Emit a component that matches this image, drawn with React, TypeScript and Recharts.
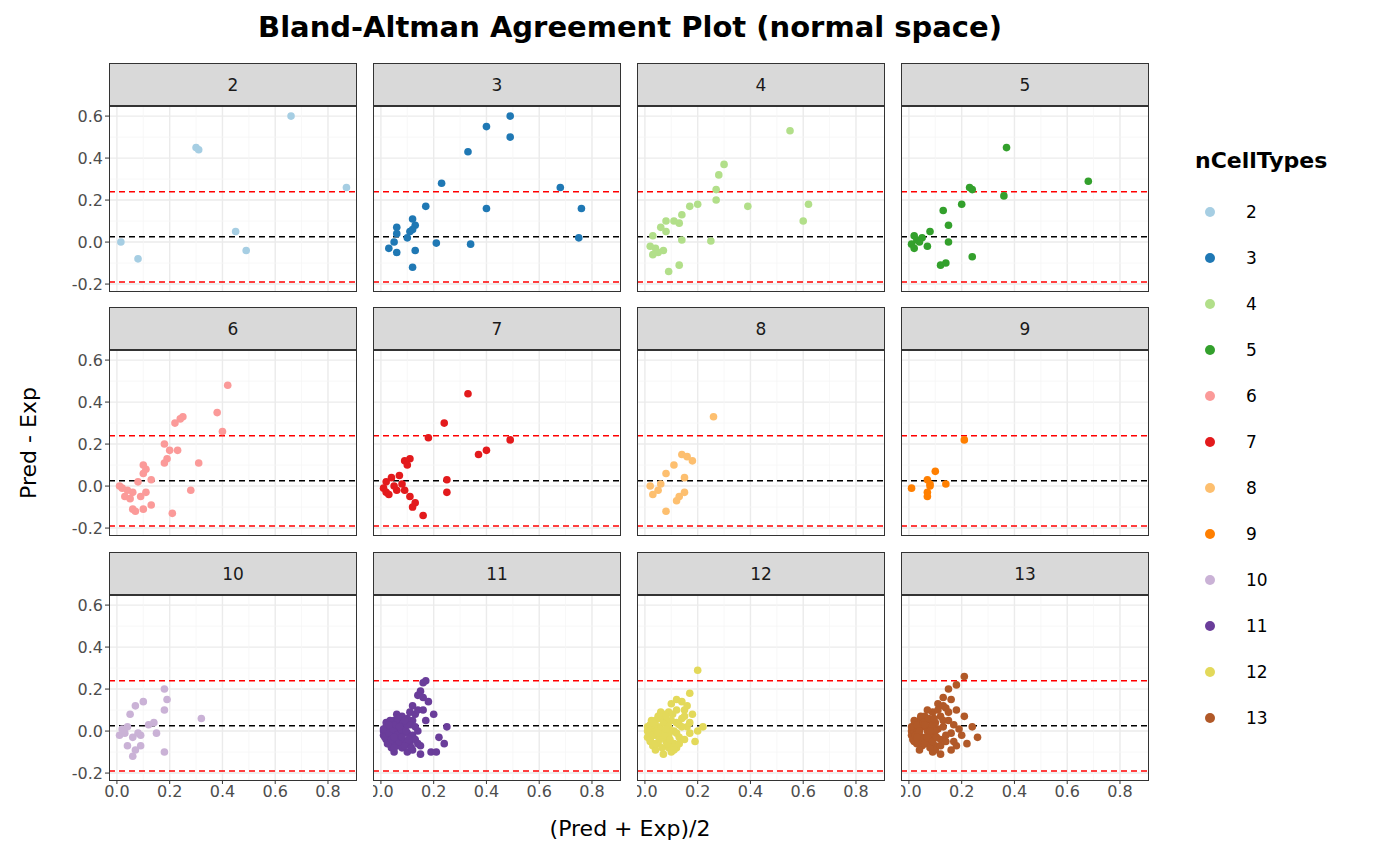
import { ScatterChart, Scatter, XAxis, YAxis, CartesianGrid, ReferenceLine } from "recharts"

const groups = ["2", "3", "4", "5", "6", "7", "8", "9", "10", "11", "12", "13"]
const colors = ["#A6CEE3", "#1F78B4", "#B2DF8A", "#33A02C", "#FB9A99", "#E31A1C", "#FDBF6F", "#FF7F00", "#CAB2D6", "#6A3D9A", "#E3D95A", "#B15928"]

const xTicks = [0, 0.2, 0.4, 0.6, 0.8]
const yTicks = [-0.2, 0, 0.2, 0.4, 0.6]
const xMinor = [0.1, 0.3, 0.5, 0.7]
const yMinor = [-0.1, 0.1, 0.3, 0.5]
const meanDiff = 0.025
const upperLoA = 0.24
const lowerLoA = -0.19

const p2 = [[0.015, 0], [0.08, -0.08], [0.3, 0.45], [0.31, 0.44], [0.66, 0.6], [0.87, 0.26], [0.45, 0.05], [0.49, -0.04]]
const p3 = [[0.49, 0.6], [0.4, 0.55], [0.49, 0.5], [0.33, 0.43], [0.23, 0.28], [0.68, 0.26], [0.17, 0.17], [0.4, 0.16], [0.76, 0.16], [0.12, 0.11], [0.13, 0.08], [0.12, 0.06], [0.06, 0.07], [0.06, 0.04], [0.11, 0.05], [0.05, 0.0], [0.03, -0.03], [0.06, -0.05], [0.13, -0.04], [0.21, -0.005], [0.34, -0.01], [0.12, -0.12], [0.75, 0.02], [0.1, 0.02]]
const p4 = [[0.55, 0.53], [0.3, 0.37], [0.28, 0.32], [0.27, 0.25], [0.27, 0.2], [0.17, 0.17], [0.2, 0.18], [0.39, 0.17], [0.62, 0.18], [0.6, 0.1], [0.14, 0.13], [0.11, 0.1], [0.08, 0.1], [0.13, 0.09], [0.06, 0.07], [0.08, 0.05], [0.03, 0.03], [0.14, 0.01], [0.25, 0.005], [0.02, -0.02], [0.04, -0.03], [0.03, -0.06], [0.07, -0.04], [0.13, -0.11], [0.09, -0.14], [0.05, -0.05]]
const p5 = [[0.37, 0.45], [0.68, 0.29], [0.23, 0.26], [0.24, 0.25], [0.36, 0.22], [0.2, 0.18], [0.13, 0.15], [0.15, 0.08], [0.08, 0.05], [0.02, 0.03], [0.05, 0.02], [0.03, 0.01], [0.01, -0.01], [0.02, -0.03], [0.07, -0.02], [0.15, 0], [0.12, -0.11], [0.14, -0.1], [0.24, -0.07], [0.04, 0.0]]
const p6 = [[0.42, 0.48], [0.38, 0.35], [0.25, 0.33], [0.24, 0.32], [0.22, 0.3], [0.4, 0.26], [0.18, 0.2], [0.2, 0.17], [0.23, 0.17], [0.19, 0.13], [0.18, 0.11], [0.31, 0.11], [0.1, 0.1], [0.11, 0.08], [0.1, 0.06], [0.13, 0.03], [0.08, 0.02], [0.02, -0.01], [0.04, -0.02], [0.06, -0.03], [0.03, -0.05], [0.05, -0.06], [0.11, -0.03], [0.09, -0.05], [0.28, -0.02], [0.13, -0.09], [0.1, -0.11], [0.06, -0.11], [0.07, -0.12], [0.21, -0.13], [0.01, 0.0]]
const p7 = [[0.33, 0.44], [0.4, 0.17], [0.37, 0.15], [0.49, 0.22], [0.24, 0.3], [0.18, 0.23], [0.11, 0.13], [0.09, 0.12], [0.1, 0.1], [0.07, 0.05], [0.04, 0.04], [0.02, 0.02], [0.01, -0.01], [0.02, -0.03], [0.03, -0.04], [0.06, -0.02], [0.09, -0.02], [0.11, -0.05], [0.13, -0.08], [0.12, -0.1], [0.16, -0.14], [0.25, 0.03], [0.25, -0.03], [0.05, 0.0], [0.08, 0.01]]
const p8 = [[0.26, 0.33], [0.14, 0.15], [0.16, 0.14], [0.18, 0.12], [0.11, 0.1], [0.08, 0.06], [0.15, 0.04], [0.02, 0.0], [0.05, -0.02], [0.03, -0.04], [0.13, -0.05], [0.15, -0.03], [0.12, -0.07], [0.08, -0.12], [0.06, 0.01]]
const p9 = [[0.21, 0.22], [0.1, 0.07], [0.07, 0.03], [0.08, 0.01], [0.01, -0.01], [0.07, -0.03], [0.07, -0.05], [0.14, 0.01], [0.08, 0.0]]
const p10 = [[0.18, 0.2], [0.19, 0.15], [0.1, 0.14], [0.07, 0.12], [0.18, 0.1], [0.05, 0.08], [0.12, 0.03], [0.14, 0.04], [0.04, 0.02], [0.02, 0.01], [0.01, -0.02], [0.03, -0.01], [0.06, -0.03], [0.09, -0.02], [0.15, -0.01], [0.04, -0.07], [0.09, -0.07], [0.07, -0.09], [0.06, -0.12], [0.18, -0.1], [0.32, 0.06], [0.08, -0.01]]
const p11 = [[0.17, 0.24], [0.16, 0.23], [0.15, 0.19], [0.14, 0.17], [0.16, 0.16], [0.18, 0.14], [0.12, 0.12], [0.16, 0.1], [0.2, 0.08], [0.12, 0.05], [0.25, 0.02], [0.22, -0.03], [0.24, -0.06], [0.19, -0.1], [0.21, -0.1], [0.15, -0.11], [0.1, -0.1], [0.05, -0.1], [0.01, 0.0], [0.01, -0.02], [0.02, 0.02], [0.02, -0.04], [0.03, 0.01], [0.03, -0.06], [0.04, 0.03], [0.04, -0.02], [0.05, 0.05], [0.05, -0.05], [0.06, 0.0], [0.06, -0.07], [0.07, 0.04], [0.07, -0.03], [0.08, 0.07], [0.08, -0.08], [0.09, 0.02], [0.09, -0.05], [0.1, 0.06], [0.1, -0.01], [0.11, 0.03], [0.11, -0.06], [0.12, -0.02], [0.13, 0.08], [0.13, -0.04], [0.14, 0.0], [0.15, -0.07], [0.04, -0.08], [0.06, 0.08], [0.02, -0.01], [0.08, 0.0], [0.12, -0.09],
  [0.01, 0.01], [0.015, -0.03], [0.02, 0.04], [0.025, -0.06], [0.03, -0.01], [0.035, 0.05], [0.04, -0.04], [0.045, 0.01], [0.05, -0.08], [0.055, 0.03], [0.06, -0.02], [0.065, 0.06], [0.07, -0.05], [0.075, 0.01], [0.08, -0.03], [0.085, 0.04], [0.09, -0.07], [0.095, 0.0], [0.1, 0.03], [0.105, -0.04], [0.11, 0.09], [0.115, -0.08], [0.13, 0.02], [0.14, -0.06], [0.14, 0.1], [0.17, 0.05], [0.03, 0.03], [0.07, 0.02], [0.05, -0.03], [0.09, 0.05]]
const p12 = [[0.2, 0.29], [0.17, 0.18], [0.14, 0.14], [0.12, 0.15], [0.1, 0.13], [0.15, 0.1], [0.18, 0.08], [0.07, 0.08], [0.22, 0.02], [0.2, 0.0], [0.17, -0.01], [0.19, -0.05], [0.12, -0.08], [0.1, -0.1], [0.07, -0.11], [0.01, 0.0], [0.01, -0.03], [0.02, 0.03], [0.02, -0.05], [0.03, 0.01], [0.03, -0.07], [0.04, 0.05], [0.04, -0.02], [0.05, 0.02], [0.05, -0.06], [0.06, 0.06], [0.06, -0.03], [0.07, 0.0], [0.08, 0.04], [0.08, -0.05], [0.09, 0.09], [0.09, -0.02], [0.1, 0.05], [0.11, 0.0], [0.11, -0.06], [0.12, 0.1], [0.13, 0.03], [0.13, -0.03], [0.14, 0.06], [0.15, -0.04], [0.16, 0.02], [0.04, -0.09], [0.06, 0.09], [0.02, 0.0], [0.09, -0.08], [0.16, 0.12],
  [0.01, 0.02], [0.015, -0.01], [0.02, -0.04], [0.025, 0.05], [0.03, -0.02], [0.035, 0.03], [0.04, -0.06], [0.045, 0.0], [0.05, 0.07], [0.055, -0.04], [0.06, 0.01], [0.065, -0.08], [0.07, 0.04], [0.075, -0.02], [0.08, 0.07], [0.085, -0.06], [0.09, 0.02], [0.095, -0.04], [0.1, 0.0], [0.105, 0.08], [0.11, -0.09], [0.12, 0.04], [0.13, -0.06], [0.14, 0.02], [0.15, 0.07], [0.17, 0.04], [0.05, -0.01], [0.03, 0.04], [0.08, 0.01], [0.12, -0.01]]
const p13 = [[0.21, 0.26], [0.18, 0.22], [0.15, 0.2], [0.13, 0.16], [0.16, 0.15], [0.11, 0.13], [0.14, 0.11], [0.18, 0.1], [0.21, 0.07], [0.24, 0.02], [0.26, -0.03], [0.2, -0.02], [0.22, -0.06], [0.18, -0.07], [0.16, -0.09], [0.12, -0.11], [0.09, -0.1], [0.01, 0.0], [0.01, -0.02], [0.02, 0.03], [0.02, -0.05], [0.03, 0.01], [0.03, -0.06], [0.04, 0.05], [0.04, -0.02], [0.05, 0.02], [0.05, -0.07], [0.06, 0.07], [0.06, -0.03], [0.07, 0.0], [0.08, 0.05], [0.08, -0.05], [0.09, 0.09], [0.09, -0.02], [0.1, 0.04], [0.1, -0.07], [0.11, 0.01], [0.12, 0.07], [0.12, -0.04], [0.13, 0.02], [0.14, -0.05], [0.15, 0.05], [0.16, -0.01], [0.17, 0.03], [0.04, -0.09], [0.07, 0.1], [0.02, 0.0], [0.1, -0.09], [0.19, 0.01],
  [0.01, 0.02], [0.015, -0.04], [0.02, 0.05], [0.025, -0.02], [0.03, 0.03], [0.035, -0.05], [0.04, 0.0], [0.045, 0.07], [0.05, -0.04], [0.055, 0.04], [0.06, -0.06], [0.065, 0.02], [0.07, -0.03], [0.075, 0.06], [0.08, -0.08], [0.085, 0.02], [0.09, -0.05], [0.095, 0.06], [0.1, 0.0], [0.105, -0.03], [0.11, 0.1], [0.12, -0.07], [0.13, 0.05], [0.14, -0.02], [0.15, 0.09], [0.17, -0.05], [0.03, -0.03], [0.06, 0.03], [0.08, 0.0], [0.13, 0.12]]
const panelPoints = [p2, p3, p4, p5, p6, p7, p8, p9, p10, p11, p12, p13]

const colLeft = [109, 373, 637, 901]
const rowTop = [63, 307, 552]
const plotW = 248
const plotH = 185
const stripH = 43
const yAxisW = 50
const xAxisH = 30
const font = "DejaVu Sans, sans-serif"

const Dot = (props: any) => <circle cx={props.cx} cy={props.cy} r={3.8} fill={props.fill} />

function Panel({ idx }: { idx: number }) {
  const col = idx % 4
  const row = Math.floor(idx / 4)
  const left = col === 0
  const bottom = row === 2
  const data = panelPoints[idx].map(([x, y]) => ({ x, y }))
  const top = rowTop[row] + stripH
  const tick = { fill: "#4d4d4d", fontSize: 16, fontFamily: font }
  return (
    <>
      <div style={{ position: "absolute", left: colLeft[col], top: rowTop[row], width: plotW - 2, height: stripH - 2, background: "#d9d9d9", border: "1px solid #333", display: "flex", alignItems: "center", justifyContent: "center", fontFamily: font, fontSize: 17, color: "#1a1a1a" }}>
        {groups[idx]}
      </div>
      <div style={{ position: "absolute", left: colLeft[col] - (left ? yAxisW : 0), top }}>
        <ScatterChart width={plotW + (left ? yAxisW : 0)} height={plotH + (bottom ? xAxisH : 0)} margin={{ top: 0, right: 0, bottom: 0, left: 0 }}>
          <CartesianGrid stroke="#ebebeb" strokeWidth={1.4} horizontalValues={yTicks} verticalValues={xTicks} fill="#fff" />
          <XAxis type="number" dataKey="x" domain={[-0.03, 0.91]} ticks={xTicks} interval={0} hide={!bottom} height={xAxisH} axisLine={false} tickLine={{ stroke: "#333" }} tickSize={4} tick={tick} tickFormatter={(v: number) => v.toFixed(1)} allowDataOverflow />
          <YAxis type="number" dataKey="y" domain={[-0.233, 0.648]} ticks={yTicks} interval={0} hide={!left} width={yAxisW} axisLine={false} tickLine={{ stroke: "#333" }} tickSize={4} tick={tick} tickFormatter={(v: number) => v.toFixed(1)} allowDataOverflow />
          {xMinor.map((v) => <ReferenceLine key={"x" + v} x={v} stroke="#f5f5f5" strokeWidth={0.8} />)}
          {yMinor.map((v) => <ReferenceLine key={"y" + v} y={v} stroke="#f5f5f5" strokeWidth={0.8} />)}
          <ReferenceLine y={upperLoA} stroke="#ff0000" strokeWidth={1.6} strokeDasharray="6 4" />
          <ReferenceLine y={lowerLoA} stroke="#ff0000" strokeWidth={1.6} strokeDasharray="6 4" />
          <ReferenceLine y={meanDiff} stroke="#000" strokeWidth={1.6} strokeDasharray="6 4" />
          <Scatter data={data} fill={colors[idx]} shape={Dot} isAnimationActive={false} />
        </ScatterChart>
      </div>
      <div style={{ position: "absolute", left: colLeft[col], top, width: plotW - 2, height: plotH - 1, border: "1px solid #333", pointerEvents: "none" }} />
    </>
  )
}

export default function App() {
  return (
    <div style={{ position: "absolute", left: 0, top: 0, width: 1400, height: 865, background: "#fff", fontFamily: font }}>
      <div style={{ position: "absolute", left: 0, width: 1260, top: 10, textAlign: "center", fontSize: 29, fontWeight: "bold" }}>
        Bland-Altman Agreement Plot (normal space)
      </div>
      {groups.map((g, i) => <Panel key={g} idx={i} />)}
      <div style={{ position: "absolute", left: 0, width: 1260, top: 816, textAlign: "center", fontSize: 22 }}>(Pred + Exp)/2</div>
      <div style={{ position: "absolute", left: 28, top: 443, transform: "translate(-50%, -50%) rotate(-90deg)", fontSize: 22, whiteSpace: "nowrap" }}>Pred - Exp</div>
      <div style={{ position: "absolute", left: 1195, top: 148, fontSize: 22, fontWeight: "bold" }}>nCellTypes</div>
      {groups.map((g, i) => (
        <div key={g} style={{ position: "absolute", left: 1198, top: 200 + i * 46, display: "flex", alignItems: "center", fontSize: 17 }}>
          <svg width={24} height={24}><circle cx={12} cy={12} r={5} fill={colors[i]} /></svg>
          <span style={{ marginLeft: 24 }}>{g}</span>
        </div>
      ))}
    </div>
  )
}
